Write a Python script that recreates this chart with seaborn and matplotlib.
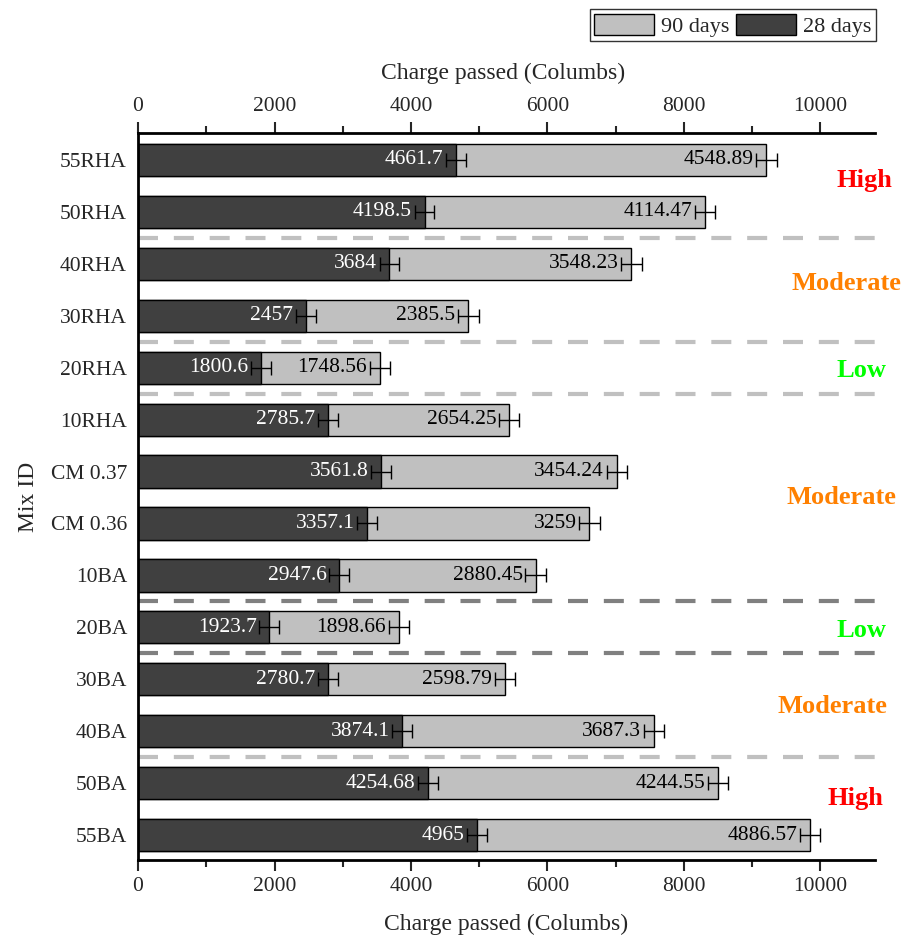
import matplotlib
matplotlib.use("Agg")
import matplotlib.pyplot as plt
from matplotlib.patches import Patch
import numpy as np
import pandas as pd
import seaborn as sns

mixes = ["55RHA", "50RHA", "40RHA", "30RHA", "20RHA", "10RHA", "CM 0.37",
         "CM 0.36", "10BA", "20BA", "30BA", "40BA", "50BA", "55BA"]
charge_28 = [4661.7, 4198.5, 3684, 2457, 1800.6, 2785.7, 3561.8,
             3357.1, 2947.6, 1923.7, 2780.7, 3874.1, 4254.68, 4965]
charge_90 = [4548.89, 4114.47, 3548.23, 2385.5, 1748.56, 2654.25, 3454.24,
             3259, 2880.45, 1898.66, 2598.79, 3687.3, 4244.55, 4886.57]
err_28 = [145] * 14
err_90 = [150] * 14

# class bands: label, colour, position (x in axes fraction, y in category units)
classes = ["High", "Moderate", "Low", "Moderate", "Low", "Moderate", "High"]
class_colors = ["#ff0000", "#ff8000", "#00ff00", "#ff8000", "#00ff00", "#ff8000", "#ff0000"]
class_x = [0.9864, 0.962, 0.982, 0.954, 0.982, 0.943, 0.973]
class_y = [0.4, 2.38, 4.05, 6.5, 9.07, 10.52, 12.29]

# dividers between classes
divider_y = [1.5, 3.5, 4.5, 8.5, 9.5, 11.5]
divider_c = ["#c0c0c0", "#c0c0c0", "#c0c0c0", "#808080", "#808080", "#c0c0c0"]

df = pd.DataFrame({"mix": mixes, "d28": charge_28, "d90": charge_90})
df["total"] = df["d28"] + df["d90"]

sns.set_theme(style="white")
plt.rcParams["font.family"] = ["Liberation Serif", "DejaVu Serif"]

fig = plt.figure(figsize=(9.13, 9.35), dpi=100)
ax = fig.add_axes([0.1512, 0.0802, 0.8071, 0.7776])

light = "#c0c0c0"
dark = "#404040"
sns.barplot(data=df, x="total", y="mix", orient="h", color=light, saturation=1,
            edgecolor="black", linewidth=1.0, width=0.62, ax=ax, errorbar=None)
sns.barplot(data=df, x="d28", y="mix", orient="h", color=dark, saturation=1,
            edgecolor="black", linewidth=1.0, width=0.62, ax=ax, errorbar=None)

ypos = np.arange(len(mixes))
ax.errorbar(df["d28"], ypos, xerr=err_28, fmt="none", ecolor="black",
            elinewidth=1.0, capsize=5, capthick=1.0, zorder=5)
ax.errorbar(df["total"], ypos, xerr=err_90, fmt="none", ecolor="black",
            elinewidth=1.0, capsize=5, capthick=1.0, zorder=5)

fs = 15.5
for i in range(len(mixes)):
    ax.annotate(f"{charge_28[i]:g}", (df["d28"][i] - err_28[i], i),
                xytext=(-2, 0), textcoords="offset points",
                ha="right", va="center", color="white", fontsize=fs)
    ax.annotate(f"{charge_90[i]:g}", (df["total"][i] - err_90[i], i),
                xytext=(-2, 0), textcoords="offset points",
                ha="right", va="center", color="black", fontsize=fs)

for y, c in zip(divider_y, divider_c):
    ax.plot([0, 1.02], [y, y], transform=ax.get_yaxis_transform(),
            color=c, lw=3.0, dashes=(4.8, 3.8), clip_on=False, zorder=1)

for lab, c, x, y in zip(classes, class_colors, class_x, class_y):
    ax.text(x, y, lab, transform=ax.get_yaxis_transform(), ha="center",
            va="center", color=c, fontsize=19, fontweight="bold", clip_on=False)

ax.set_xlim(0, 10800)
ax.set_ylim(13.48, -0.52)
ax.set_xticks(np.arange(0, 10001, 2000))
ax.set_xticks(np.arange(1000, 10001, 2000), minor=True)
ax.tick_params(axis="x", which="major", direction="out", length=8, width=1.5,
               labelsize=fs, bottom=True, top=True, labeltop=True, pad=4)
ax.tick_params(axis="x", which="minor", direction="out", length=5, width=1.5,
               bottom=True, top=True)
ax.tick_params(axis="y", length=0, labelsize=fs, pad=8)

for s in ["top", "bottom", "left"]:
    ax.spines[s].set_visible(True)
    ax.spines[s].set_linewidth(2.0)
    ax.spines[s].set_color("black")
ax.spines["right"].set_visible(False)

ax.set_xlabel("Charge passed (Columbs)", fontsize=17, labelpad=13)
ax.set_ylabel("Mix ID", fontsize=17, labelpad=8)
fig.text(0.5512, 1 - 73 / 935, "Charge passed (Columbs)", ha="center",
         va="center", fontsize=17)

handles = [Patch(facecolor=light, edgecolor="black", label="90 days"),
           Patch(facecolor=dark, edgecolor="black", label="28 days")]
leg = fig.legend(handles=handles, loc="upper right", bbox_to_anchor=(0.964, 0.995),
                 ncol=2, fontsize=16, frameon=True, fancybox=False,
                 edgecolor="black", handlelength=2.7, handleheight=1.1,
                 handletextpad=0.3, columnspacing=0.3, borderpad=0.2,
                 borderaxespad=0.2)
leg.get_frame().set_linewidth(1.0)

fig.savefig("out.png", dpi=100)
